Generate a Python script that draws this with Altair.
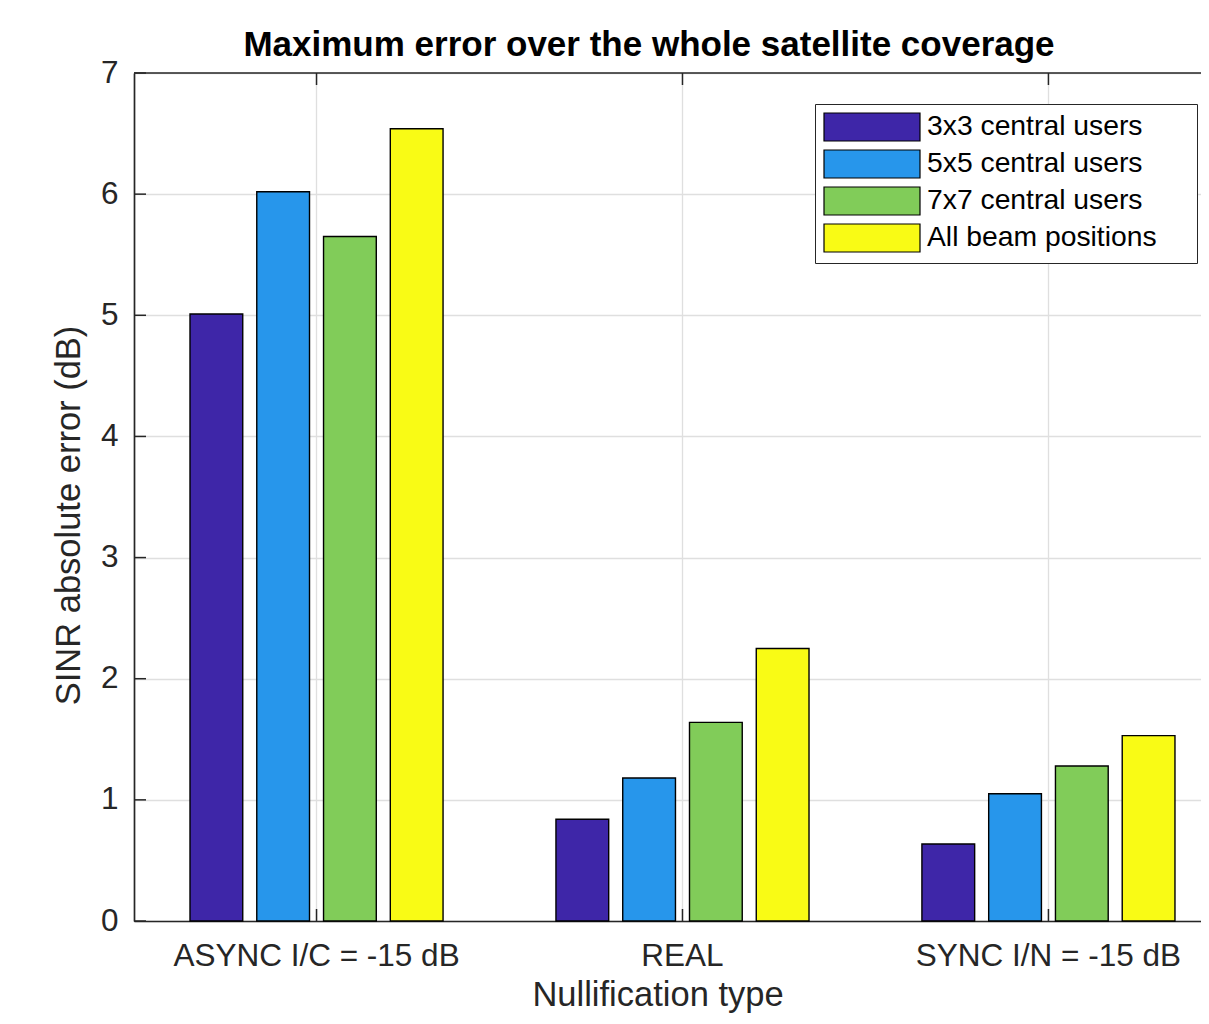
import altair as alt
import pandas as pd

# ---- data ----
title_text = "Maximum error over the whole satellite coverage"
groups = ["ASYNC I/C = -15 dB", "REAL", "SYNC I/N = -15 dB"]
series = ["3x3 central users", "5x5 central users", "7x7 central users", "All beam positions"]
v_3x3 = [5.01, 0.84, 0.635]
v_5x5 = [6.02, 1.18, 1.05]
v_7x7 = [5.65, 1.64, 1.28]
v_all = [6.54, 2.25, 1.53]
colors = ["#3E26A8", "#2796EB", "#81CC59", "#F9FB15"]
yticks = [0, 1, 2, 3, 4, 5, 6, 7]

rows = []
for s, vals in zip(series, [v_3x3, v_5x5, v_7x7, v_all]):
    for g, v in zip(groups, vals):
        rows.append({"group": g, "series": s, "value": v})
df = pd.DataFrame(rows)

W, H = 1075, 848
FONT = "Liberation Sans"
AX = "#262626"
GRID = "#DFDFDF"

xscale = alt.Scale(paddingInner=0.3085, paddingOuter=0.123, align=0.622)
yscale = alt.Scale(domain=[0, 7], nice=False, zero=True)

xaxis = alt.Axis(title="Nullification type", labelAngle=0,
                 labelFontSize=31.5, labelBaseline="alphabetic",
                 labelPadding=44, ticks=False, tickSize=0, labelLimit=0,
                 titleFontSize=34.5, titleFontWeight="normal",
                 titleBaseline="alphabetic", titleY=84, titleX=523.5,
                 titleAlign="center", grid=True)
yaxis = alt.Axis(title="SINR absolute error (dB)", values=yticks,
                 labelFontSize=31.5, labelPadding=16, ticks=False,
                 tickSize=0, grid=True,
                 titleFontSize=34.5, titleFontWeight="normal",
                 titleBaseline="alphabetic", titleAngle=270,
                 titleAlign="center", titleX=-55, titleY=442)

# wide rectangle legend swatch: height = sqrt(size), extends to the right
rect_path = "M-1,-1L5.857,-1L5.857,1L-1,1Z"

bars = alt.Chart(df).mark_bar(stroke="black", strokeWidth=1.4).encode(
    x=alt.X("group:N", sort=groups, scale=xscale, axis=xaxis),
    xOffset=alt.XOffset("series:N", sort=series,
                        scale=alt.Scale(paddingInner=0.21, paddingOuter=0)),
    y=alt.Y("value:Q", scale=yscale, axis=yaxis),
    color=alt.Color("series:N", sort=series,
                    scale=alt.Scale(domain=series, range=colors),
                    legend=alt.Legend(orient="none", legendX=681, legendY=31,
                                      title=None, labelFontSize=28.3,
                                      labelFont=FONT, labelColor="black",
                                      labelLimit=500, labelOffset=74,
                                      labelExpr="datum.label + '\u00a0\u00a0\u00a0\u00a0\u200b'",
                                      symbolType=rect_path, symbolSize=784,
                                      symbolStrokeColor="black",
                                      symbolStrokeWidth=1.2, symbolOpacity=1,
                                      strokeColor=AX, fillColor="white",
                                      padding=8, rowPadding=3)),
)

ytick_df = pd.DataFrame({"value": yticks})
yticks_in = alt.Chart(ytick_df).mark_rule(color=AX, strokeWidth=1.5).encode(
    y=alt.Y("value:Q", scale=yscale, axis=yaxis),
    x=alt.value(0), x2=alt.value(12),
)

gdf = pd.DataFrame({"group": groups})
xticks_bottom = alt.Chart(gdf).mark_rule(color=AX, strokeWidth=1.5).encode(
    x=alt.X("group:N", sort=groups, scale=xscale, axis=xaxis),
    y=alt.value(H - 12), y2=alt.value(H),
)
xticks_top = alt.Chart(gdf).mark_rule(color=AX, strokeWidth=1.5).encode(
    x=alt.X("group:N", sort=groups, scale=xscale, axis=xaxis),
    y=alt.value(0), y2=alt.value(12),
)

top_df = pd.DataFrame({"value": [yticks[-1]]})
top_border = alt.Chart(top_df).mark_rule(color=AX, strokeWidth=1.7).encode(
    y=alt.Y("value:Q", scale=yscale, axis=yaxis),
)

# chart title, drawn as bold text centred above the plot area
title_df = pd.DataFrame({"title": [title_text]})
title_mark = alt.Chart(title_df).mark_text(
    font=FONT, fontSize=35, fontWeight="bold", color="black",
    align="center", baseline="alphabetic",
).encode(text="title:N", x=alt.value(515), y=alt.value(-17))

chart = alt.layer(bars, yticks_in, xticks_bottom, xticks_top, top_border,
                  title_mark).properties(
    width=W, height=H,
    autosize=alt.AutoSizeParams(type="none"),
    padding={"left": 126, "top": 65, "right": -8, "bottom": 92},
    background="white",
).configure_view(stroke=None).configure_axis(
    labelFont=FONT, titleFont=FONT, labelColor=AX, titleColor=AX,
    domainColor=AX, domainWidth=1.7, gridColor=GRID, gridWidth=1.3,
)

chart.save("out.html", embed_options={"renderer": "svg", "actions": False})
